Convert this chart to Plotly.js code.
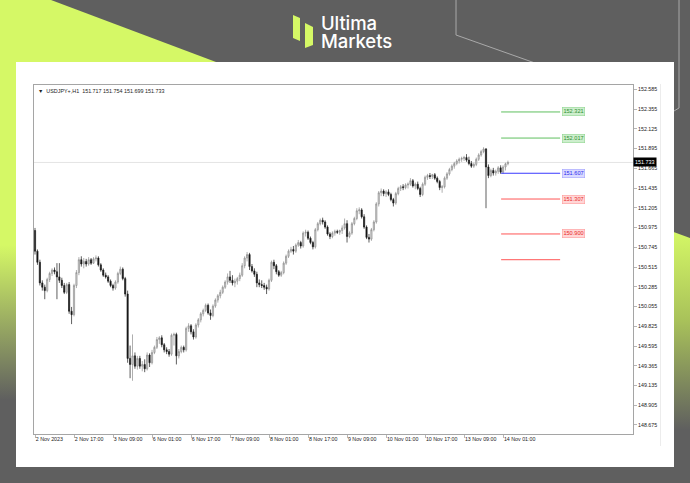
<!DOCTYPE html>
<html>
<head>
<meta charset="utf-8">
<script src="https://cdn.plot.ly/plotly-3.0.1.min.js"></script>
<style>
  html, body { margin:0; padding:0; background:#5f5f5f; }
  #wrap { position:relative; width:690px; height:483px; overflow:hidden; background:#5f5f5f; }
  #limeL { position:absolute; left:0; top:0; width:690px; height:483px;
    clip-path: polygon(0px 0px, 51px 0px, 216px 62px, 216px 483px, 0px 483px);
    background: linear-gradient(to bottom, #d5f866 0px, #d5f866 245px, #5f5f5f 400px); }
  #limeR { position:absolute; left:0; top:0; width:690px; height:483px;
    clip-path: polygon(600px 205px, 690px 238px, 690px 483px, 600px 483px);
    background: linear-gradient(to bottom, #d5f866 230px, #a9c25a 320px, #5f5f5f 430px); }
  #deco { position:absolute; left:0; top:0; }
  #card { position:absolute; left:16px; top:62px; width:658px; height:405px; background:#ffffff; }
  .logo { position:absolute; left:321px; color:#ffffff; font-family:Inter, Roboto, "Open Sans", sans-serif;
    font-weight:500; font-size:18.5px; line-height:16px; letter-spacing:-0.1px; white-space:nowrap; }
  #chart { position:absolute; left:0; top:0; width:690px; height:483px; }
</style>
</head>
<body>
<div id="wrap">
  <div id="limeL"></div>
  <div id="limeR"></div>
  <svg id="deco" width="690" height="483">
    <polyline points="456,0 456,35 535,63" fill="none" stroke="#a9a9a9" stroke-width="1"/>
    <polyline points="679,0 679,108 674,111" fill="none" stroke="#a9a9a9" stroke-width="1"/>
    <polygon points="293,15 300,18 300,41 293,38" fill="#d5f866"/>
    <polygon points="305,23 313,27 313,45 305,48" fill="#d5f866"/>
  </svg>
  <div id="card"></div>
  <svg style="position:absolute;left:0;top:0" width="690" height="483">
    <line x1="660.5" y1="84" x2="660.5" y2="446" stroke="#ececec" stroke-width="1"/>
  </svg>
  <div class="logo" style="top:15px">Ultima</div>
  <div class="logo" style="top:33px">Markets</div>
  <div id="chart"></div>
</div>
<script>
// ---- data ----
const symbolHeader = "▼  USDJPY+,H1  151.717 151.754 151.699 151.733";
const tickLabels = ["2 Nov 2023","2 Nov 17:00","3 Nov 09:00","6 Nov 01:00","6 Nov 17:00","7 Nov 09:00",
  "8 Nov 01:00","8 Nov 17:00","9 Nov 09:00","10 Nov 01:00","10 Nov 17:00","13 Nov 09:00","14 Nov 01:00"];
const barsPerLabel = 16;
const yTicks = [152.585,152.355,152.125,151.895,151.665,151.435,151.205,150.975,150.745,150.515,
  150.285,150.055,149.825,149.595,149.365,149.135,148.905,148.675];

const opens = [
150.94,150.70,150.57,150.33,150.28,150.24,150.37,150.44,150.48,150.46,
150.40,150.36,150.30,150.22,150.31,150.00,149.96,150.30,150.45,150.60,
150.55,150.58,150.55,150.60,150.56,150.61,150.62,150.54,150.48,150.42,
150.40,150.35,150.30,150.27,150.34,150.44,150.49,150.38,150.20,149.45,
149.38,149.48,149.36,149.45,149.36,149.38,149.33,149.49,149.40,149.52,
149.58,149.67,149.69,149.61,149.55,149.53,149.50,149.72,149.73,149.48,
149.53,149.58,149.55,149.80,149.83,149.76,149.70,149.84,149.90,149.97,
150.01,150.07,149.98,149.95,150.06,150.13,150.18,150.22,150.28,150.34,
150.40,150.36,150.33,150.35,150.38,150.42,150.53,150.62,150.66,150.52,
150.47,150.43,150.33,150.31,150.30,150.28,150.26,150.36,150.57,150.53,
150.46,150.42,150.45,150.56,150.64,150.70,150.72,150.70,150.77,150.80,
150.76,150.91,150.92,150.85,150.80,150.75,150.95,151.02,151.06,151.04,
150.98,150.90,150.87,150.91,150.93,150.92,150.94,150.97,151.02,150.87,
150.91,151.02,151.08,151.17,151.18,151.10,150.98,150.86,150.84,150.95,
151.04,151.25,151.38,151.40,151.37,151.39,151.36,151.30,151.26,151.37,
151.43,151.45,151.44,151.47,151.48,151.52,151.46,151.48,151.43,151.36,
151.48,151.56,151.58,151.57,151.59,151.55,151.51,151.44,151.45,151.55,
151.60,151.65,151.69,151.72,151.75,151.77,151.78,151.79,151.76,151.72,
151.69,151.71,151.77,151.82,151.86,151.89,151.68,151.58,151.64,151.61,
151.63,151.67,151.62,151.68,151.717];
const highs = [
150.97,150.72,150.60,150.36,150.31,150.39,150.46,150.50,150.51,150.56,
150.56,150.39,150.33,150.33,150.34,150.05,150.32,150.48,150.63,150.64,
150.62,150.61,150.63,150.62,150.63,150.65,150.64,150.56,150.50,150.45,
150.42,150.37,150.32,150.36,150.46,150.52,150.51,150.40,150.24,149.60,
149.73,149.52,149.48,149.48,149.42,149.44,149.52,149.51,149.55,149.60,
149.70,149.71,149.72,149.63,149.58,149.56,149.74,149.75,149.75,149.56,
149.60,149.60,149.82,149.86,149.85,149.79,149.86,149.92,149.99,150.03,
150.09,150.09,150.02,150.08,150.15,150.20,150.25,150.30,150.36,150.44,
150.47,150.42,150.38,150.40,150.45,150.56,150.64,150.69,150.68,150.55,
150.50,150.46,150.37,150.36,150.33,150.31,150.38,150.59,150.60,150.55,
150.48,150.47,150.58,150.66,150.72,150.75,150.76,150.79,150.83,150.82,
150.93,150.95,150.94,150.87,150.82,150.97,151.04,151.08,151.09,151.06,
151.00,150.92,150.93,150.95,150.95,150.95,151.00,151.08,151.06,150.93,
151.04,151.10,151.20,151.21,151.20,151.13,151.00,150.90,150.97,151.06,
151.27,151.40,151.43,151.42,151.41,151.42,151.38,151.32,151.39,151.45,
151.47,151.48,151.49,151.50,151.55,151.54,151.50,151.51,151.45,151.50,
151.58,151.60,151.61,151.60,151.61,151.57,151.53,151.47,151.57,151.62,
151.67,151.71,151.74,151.77,151.79,151.80,151.81,151.83,151.80,151.75,
151.73,151.79,151.84,151.88,151.91,151.90,151.71,151.66,151.67,151.65,
151.69,151.70,151.70,151.73,151.754];
const lows = [
150.66,150.54,150.30,150.24,150.14,150.22,150.34,150.41,150.43,150.14,
150.33,150.27,150.20,150.20,149.97,149.85,149.94,150.27,150.42,150.52,
150.50,150.52,150.53,150.54,150.55,150.58,150.52,150.46,150.40,150.38,
150.33,150.28,150.24,150.25,150.32,150.42,150.36,150.17,149.40,149.22,
149.19,149.33,149.32,149.33,149.30,149.29,149.31,149.35,149.38,149.50,
149.56,149.62,149.58,149.52,149.50,149.47,149.48,149.60,149.38,149.45,
149.51,149.52,149.53,149.76,149.73,149.67,149.68,149.81,149.87,149.94,
149.99,149.96,149.90,149.93,150.04,150.10,150.15,150.20,150.26,150.31,
150.33,150.30,150.28,150.31,150.35,150.40,150.50,150.58,150.48,150.45,
150.40,150.28,150.28,150.27,150.25,150.20,150.24,150.34,150.49,150.43,
150.40,150.40,150.43,150.54,150.62,150.68,150.66,150.68,150.75,150.73,
150.74,150.87,150.83,150.78,150.72,150.73,150.93,151.00,151.01,150.96,
150.88,150.84,150.85,150.88,150.90,150.89,150.90,150.95,150.80,150.85,
150.89,151.00,151.06,151.13,151.08,150.96,150.84,150.80,150.82,150.93,
151.02,151.22,151.34,151.34,151.33,151.34,151.28,151.22,151.24,151.35,
151.40,151.41,151.42,151.43,151.46,151.44,151.42,151.41,151.33,151.34,
151.46,151.53,151.54,151.54,151.53,151.49,151.41,151.38,151.43,151.53,
151.58,151.63,151.66,151.70,151.72,151.74,151.75,151.74,151.70,151.67,
151.67,151.69,151.75,151.80,151.84,151.20,151.55,151.56,151.58,151.58,
151.60,151.60,151.60,151.64,151.699];
const closes = [
150.70,150.57,150.33,150.28,150.24,150.37,150.44,150.48,150.46,150.40,
150.36,150.30,150.22,150.31,150.00,149.96,150.30,150.45,150.60,150.55,
150.58,150.55,150.60,150.56,150.61,150.62,150.54,150.48,150.42,150.40,
150.35,150.30,150.27,150.34,150.44,150.49,150.38,150.20,149.45,149.38,
149.48,149.36,149.45,149.36,149.38,149.33,149.49,149.40,149.52,149.58,
149.67,149.69,149.61,149.55,149.53,149.50,149.72,149.73,149.48,149.53,
149.58,149.55,149.80,149.83,149.76,149.70,149.84,149.90,149.97,150.01,
150.07,149.98,149.95,150.06,150.13,150.18,150.22,150.28,150.34,150.40,
150.36,150.33,150.35,150.38,150.42,150.53,150.62,150.66,150.52,150.47,
150.43,150.33,150.31,150.30,150.28,150.26,150.36,150.57,150.53,150.46,
150.42,150.45,150.56,150.64,150.70,150.72,150.70,150.77,150.80,150.76,
150.91,150.92,150.85,150.80,150.75,150.95,151.02,151.06,151.04,150.98,
150.90,150.87,150.91,150.93,150.92,150.94,150.97,151.02,150.87,150.91,
151.02,151.08,151.17,151.18,151.10,150.98,150.86,150.84,150.95,151.04,
151.25,151.38,151.40,151.37,151.39,151.36,151.30,151.26,151.37,151.43,
151.45,151.44,151.47,151.48,151.52,151.46,151.48,151.43,151.36,151.48,
151.56,151.58,151.57,151.59,151.55,151.51,151.44,151.45,151.55,151.60,
151.65,151.69,151.72,151.75,151.77,151.78,151.79,151.76,151.72,151.69,
151.71,151.77,151.82,151.86,151.89,151.68,151.58,151.64,151.61,151.63,
151.67,151.62,151.68,151.717,151.733];

const levelValues = [152.321, 152.017, 151.607, 151.307, 150.900, 150.600];
const levelLabels = ["152.321", "152.017", "151.607", "151.307", "150.900", ""];
const levelKinds  = ["green", "green", "blue", "red", "red", "red"];
const lastPrice = 151.733;

// ---- styles ----
const kindStyle = {
  green: {line:"#5fbf5f", bg:"#cdeecd", border:"#8fd68f", text:"#2f8f2f"},
  blue:  {line:"#3a3aff", bg:"#dadaff", border:"#a0a0ff", text:"#2a2aee"},
  red:   {line:"#ff5555", bg:"#ffd6d6", border:"#ff9a9a", text:"#e82a2a"}
};
const levelStart = 191.2, levelEnd = 215.4, labelX = 216.2;

const xIdx = closes.map((_, i) => i);
const tickVals = tickLabels.map((_, k) => k * barsPerLabel);

const trace = {
  type: "candlestick",
  x: xIdx, open: opens, high: highs, low: lows, close: closes,
  increasing: {line: {color: "#8d8d8d", width: 0.7}, fillcolor: "#d9d9d9"},
  decreasing: {line: {color: "#1a1a1a", width: 0.7}, fillcolor: "#111111"},
  whiskerwidth: 0,
  hoverinfo: "skip"
};

const fontFam = "Liberation Sans, Arial, sans-serif";
const shapes = [
  {type:"line", xref:"paper", x0:0, x1:1, yref:"y", y0:lastPrice, y1:lastPrice,
   line:{color:"#e4e4e4", width:1}, layer:"below"}
];
const annotations = [
  {xref:"paper", yref:"paper", x:0.004, y:0.983, xanchor:"left", yanchor:"middle",
   text:symbolHeader, showarrow:false, font:{family:fontFam, size:5.4, color:"#222"}},
  {xref:"paper", yref:"y", x:1, y:lastPrice, xanchor:"left", yanchor:"middle", xshift:0,
   text:"151.733", showarrow:false, bgcolor:"#000000", borderpad:1,
   font:{family:fontFam, size:5.4, color:"#ffffff"}}
];
levelValues.forEach((v, k) => {
  const st = kindStyle[levelKinds[k]];
  shapes.push({type:"line", xref:"x", yref:"y", x0:levelStart, x1:levelEnd, y0:v, y1:v,
    line:{color:st.line, width:1}});
  if (levelLabels[k]) {
    annotations.push({xref:"x", yref:"y", x:labelX, y:v, xanchor:"left", yanchor:"middle",
      text:levelLabels[k], showarrow:false, bgcolor:st.bg, bordercolor:st.border, borderwidth:0.6,
      borderpad:0.8, font:{family:fontFam, size:5.6, color:st.text}});
  }
});

const layout = {
  width: 690, height: 483,
  margin: {l:34, r:57, t:85, b:49, pad:0},
  paper_bgcolor: "rgba(0,0,0,0)",
  plot_bgcolor: "#ffffff",
  showlegend: false,
  xaxis: {
    range: [-0.41, 245.3], fixedrange:true,
    tickmode: "array", tickvals: tickVals, ticktext: tickLabels,
    tickangle: 0, automargin: false,
    ticklabelposition: "outside right",
    ticks: "outside", ticklen: 3, tickcolor: "#999", tickwidth: 0.7,
    showgrid: false, zeroline: false,
    showline: true, linecolor: "#a5a5a5", linewidth: 1, mirror: true,
    rangeslider: {visible: false},
    tickfont: {family: fontFam, size: 5.3, color: "#222"}
  },
  yaxis: {
    side: "right", range: [148.570, 152.635], fixedrange:true, automargin: false,
    tickmode: "array", tickvals: yTicks, ticktext: yTicks.map(v => v.toFixed(3)),
    ticks: "outside", ticklen: 3, tickcolor: "#999", tickwidth: 0.7,
    showgrid: false, zeroline: false,
    showline: true, linecolor: "#a5a5a5", linewidth: 1, mirror: true,
    tickfont: {family: fontFam, size: 5.3, color: "#222"}
  },
  shapes: shapes,
  annotations: annotations
};

Plotly.newPlot("chart", [trace], layout, {displayModeBar:false, staticPlot:true});
</script>
</body>
</html>
